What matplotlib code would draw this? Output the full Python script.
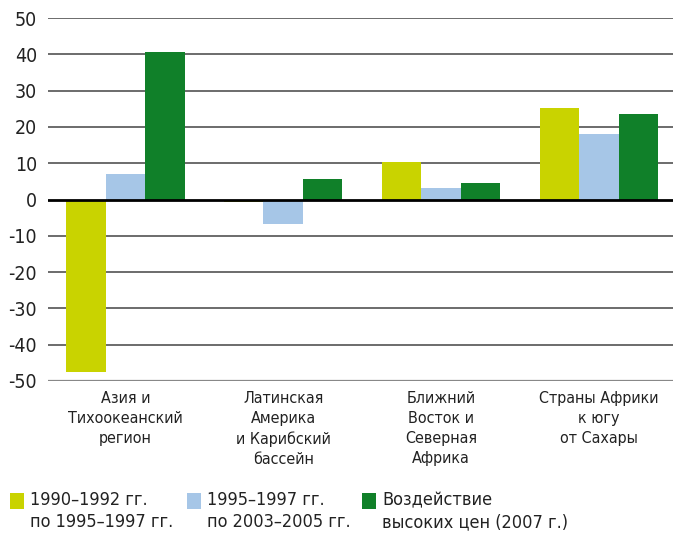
import numpy as np
import matplotlib
matplotlib.use("Agg")
import matplotlib.pyplot as plt
from matplotlib.patches import Rectangle

plt.rcParams['font.family'] = ['DejaVu Sans']
plt.rcParams['font.stretch'] = 'condensed'

regions = ["Азия и\nТихоокеанский\nрегион",
           "Латинская\nАмерика\nи Карибский\nбассейн",
           "Ближний\nВосток и\nСеверная\nАфрика",
           "Страны Африки\nк югу\nот Сахары"]
s1990 = [-47.5, -0.7, 10.3, 25.2]
s1995 = [7.0, -6.8, 3.1, 18.0]
s2007 = [40.5, 5.6, 4.5, 23.5]
series_labels = ["1990–1992 гг.\nпо 1995–1997 гг.",
                 "1995–1997 гг.\nпо 2003–2005 гг.",
                 "Воздействие\nвысоких цен (2007 г.)"]
colors = ["#C9D300", "#A6C6E7", "#108029"]
yticks = list(range(-50, 51, 10))

W, H = 699, 533
fig = plt.figure(figsize=(W / 100, H / 100), dpi=100)
ax = fig.add_axes([48 / W, 1 - 381 / H, (673 - 48) / W, (381 - 18) / H])

x = np.arange(len(regions))
bw = 0.25
for i, (vals, c) in enumerate(zip([s1990, s1995, s2007], colors)):
    ax.bar(x + (i - 1) * bw, vals, bw, color=c, zorder=2, linewidth=0)

for t in yticks:
    if t == 0:
        ax.axhline(t, color="black", lw=2, zorder=3)
    elif t == -50:
        ax.axhline(t, color="#888888", lw=1.6, zorder=1)
    else:
        ax.axhline(t, color="#444444", lw=1.1, zorder=1)

ax.set_ylim(-50, 50)
ax.set_xlim(-0.49, 3.47)
ax.set_yticks(yticks)
ax.set_yticklabels([str(t) for t in yticks], fontsize=14, color="#222222")
ax.tick_params(axis="y", length=0, pad=8)
ax.set_xticks(x)
ax.set_xticklabels(regions, fontsize=11.5, color="#222222", linespacing=1.42, va="top")
ax.tick_params(axis="x", length=0, pad=7)
for s in ax.spines.values():
    s.set_visible(False)

# legend, drawn by hand
leg_x = [10, 187, 362]
for lx, c, lab in zip(leg_x, colors, series_labels):
    fig.add_artist(Rectangle((lx / W, 1 - 509 / H), 14 / W, 16 / H,
                             transform=fig.transFigure, color=c, lw=0))
    fig.text((lx + 20) / W, 1 - 491 / H, lab, fontsize=13, color="#222222",
             va="top", ha="left", linespacing=1.3)

fig.savefig("out.png", dpi=100)
